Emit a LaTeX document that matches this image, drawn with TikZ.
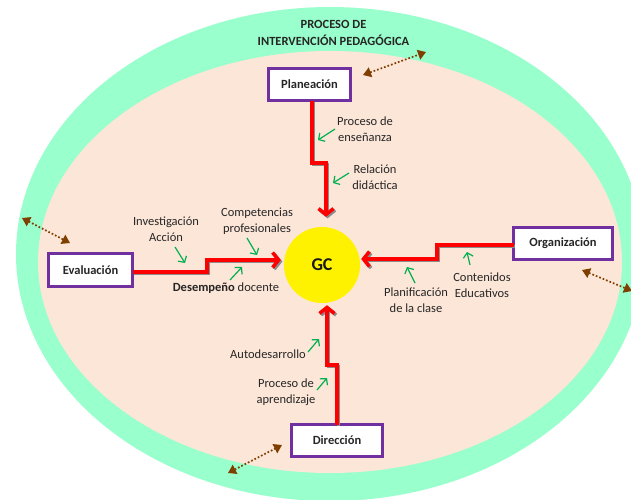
\documentclass[tikz,border=0pt]{standalone}
\usepackage{fontspec}
\setmainfont{Carlito}
\usetikzlibrary{arrows.meta}
\definecolor{outerg}{HTML}{99FFCC}
\definecolor{innerp}{HTML}{FCE6D8}
\definecolor{boxpurple}{HTML}{7030A0}
\definecolor{gr}{HTML}{00B050}
\definecolor{brn}{HTML}{7F3F00}
\definecolor{txt}{HTML}{262626}
\begin{document}
\begin{tikzpicture}[x=1pt,y=-1pt,
  box/.style={draw=boxpurple, line width=3pt, fill=white, inner sep=0pt,
    font=\fontsize{12.5}{15}\selectfont\bfseries, text=black!85},
  lab/.style={font=\fontsize{12.5}{16.5}\selectfont, align=center, text=txt, inner sep=0pt},
  redarr/.style={draw=red, line width=3.5pt, line join=miter,
    -{Straight Barb[length=6pt,width=15pt]}},
  shadowarr/.style={draw=black!45, line width=3.5pt, line join=miter,
    -{Straight Barb[length=6pt,width=15pt]},
    transform canvas={shift={(1.6pt,-1.6pt)}}},
  garr/.style={draw=gr, line width=1.2pt, -{Straight Barb[length=4.5pt,width=10pt]}},
  barr/.style={draw=brn, line width=1.7pt, dotted,
    {Triangle[length=8pt,width=10pt]}-{Triangle[length=8pt,width=10pt]}}
]
\useasboundingbox (0,0) rectangle (631,499);
\clip (0,0) rectangle (631,499);
\fill[outerg] (330,254) ellipse [x radius=314, y radius=247];
\fill[innerp] (330,262) ellipse [x radius=292, y radius=211];

\node[circle, fill=yellow, minimum size=76pt, inner sep=0pt,
  font=\fontsize{18}{20}\selectfont\bfseries, text=black!90] (gc) at (322,265) {GC};

\node[box, minimum width=82pt, minimum height=32pt] (plan) at (309.5,84.5) {Planeación};
\node[box, minimum width=84pt, minimum height=33pt] (eval) at (90.5,270) {Evaluación};
\node[box, minimum width=99pt, minimum height=32pt] (org) at (563,243.5) {Organización};
\node[box, minimum width=91pt, minimum height=32pt] (dir) at (337,440.5) {Dirección};

\node[lab, font=\fontsize{12.5}{17}\selectfont\bfseries, text=black!85] (title) at (333.5,32.5) {PROCESO DE\\INTERVENCIÓN PEDAGÓGICA};

% red arrows with shadows
\coordinate (pA) at (312,163); \coordinate (pB) at (326,163);
\coordinate (eA) at (207,272); \coordinate (eB) at (207,260);
\coordinate (oA) at (437,245); \coordinate (oB) at (437,259);
\coordinate (dA) at (337,365); \coordinate (dB) at (327,365);
\foreach \s in {shadowarr,redarr}{
  \draw[\s, shorten >=10pt] ([yshift=1.5pt]plan.south -| pA) -- (pA) -- (pB) -- (gc.north -| pB);
  \draw[\s, shorten >=3pt] ([xshift=-1.5pt]eval.east |- eA) -- (eA) -- (eB) -- (gc.west |- eB);
  \draw[\s, shorten >=1pt] ([xshift=1.5pt]org.west |- oA) -- (oA) -- (oB) -- (gc.east |- oB);
  \draw[\s, shorten >=2pt] ([yshift=-1.5pt]dir.north -| dA) -- (dA) -- (dB) -- (gc.south -| dB);
}

% labels
\node[lab] (l1) at (365,129) {Proceso de\\enseñanza};
\node[lab] (l2) at (375,177) {Relación\\didáctica};
\node[lab] (l3) at (166,229) {Investigación\\Acción};
\node[lab] (l4) at (257,221) {Competencias\\profesionales};
\node[lab] (l5) at (226,288) {\textbf{Desempeño} docente};
\node[lab] (l6) at (482,285) {Contenidos\\Educativos};
\node[lab] (l7) at (416,300) {Planificación\\de la clase};
\node[lab] (l8) at (268,354) {Autodesarrollo};
\node[lab] (l9) at (286,392) {Proceso de\\aprendizaje};

% green arrows
\coordinate (g1a) at (335,129); \coordinate (g1b) at (318,140);
\coordinate (g2a) at (349,173); \coordinate (g2b) at (333,183);
\coordinate (g3a) at (175,247); \coordinate (g3b) at (185,263);
\coordinate (g4a) at (247,238); \coordinate (g4b) at (257,255);
\coordinate (g5a) at (230,280); \coordinate (g5b) at (242,267);
\coordinate (g6a) at (470,265); \coordinate (g6b) at (467,252);
\coordinate (g7a) at (415,283); \coordinate (g7b) at (407,267);
\coordinate (g8a) at (308,352); \coordinate (g8b) at (319,339);
\coordinate (g9a) at (317,390); \coordinate (g9b) at (327,378);
\foreach \i in {1,...,9}{ \draw[garr] (g\i a) -- (g\i b); }

% brown dotted double arrows
\coordinate (b1a) at (363,75); \coordinate (b1b) at (426,52);
\coordinate (b2a) at (22,218); \coordinate (b2b) at (70,243);
\coordinate (b3a) at (582,270); \coordinate (b3b) at (632,291);
\coordinate (b4a) at (228,473); \coordinate (b4b) at (282,445);
\foreach \i in {1,...,4}{ \draw[barr] (b\i a) -- (b\i b); }
\end{tikzpicture}
\end{document}
